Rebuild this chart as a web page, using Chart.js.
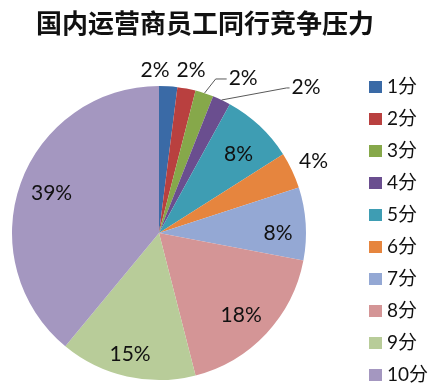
<!DOCTYPE html>
<html>
<head>
<meta charset="utf-8">
<script src="https://cdn.jsdelivr.net/npm/chart.js@4.4.1/dist/chart.umd.min.js"></script>
<style>
html,body{margin:0;padding:0;background:#fff;}
canvas{display:block;}
</style>
</head>
<body>
<canvas id="myChart" width="439" height="391"></canvas>
<script>
const chartTitle='国内运营商员工同行竞争压力';
const labels=['1分','2分','3分','4分','5分','6分','7分','8分','9分','10分'];
const values=[2,2,2,2,8,4,8,18,15,39];
const colors=['#3A6AA6','#B9403F','#86A84A','#6A4E8F','#3E9DB3','#E6853E','#94A8D4','#D49596','#B8CC99','#A497C0'];

// label placement per slice: [radius factor, angle shift in degrees, leader elbow (0 = none)]
const labelPlace=[[1.11,-5,0],[1.13,0.3,0],[1.2,10.5,11],[1.41,20,3],[0.76,2.2,0],[1.16,0.2,0],[0.81,3.6,0],[0.79,1.8,0],[0.85,0.8,0],[0.78,0.7,0]];

const txtFont='"Lato","Noto Sans CJK SC",sans-serif';

const decorPlugin={
    id:'decor',
    afterDraw(chart){
        const ctx=chart.ctx;
        const meta=chart.getDatasetMeta(0);
        const data=chart.data.datasets[0].data;
        const total=data.reduce((a,b)=>a+b,0);
        ctx.save();

        // title
        ctx.fillStyle='#111';
        ctx.font='bold 26px "Noto Sans CJK SC",sans-serif';
        ctx.textAlign='center';
        ctx.textBaseline='middle';
        ctx.fillText(chartTitle,205,23);

        // slice labels
        ctx.font='21px '+txtFont;
        meta.data.forEach((arc,i)=>{
            const p=labelPlace[i];
            const mid=(arc.startAngle+arc.endAngle)/2;
            const a=mid+p[1]*Math.PI/180;
            const r=arc.outerRadius*p[0];
            const x=arc.x+r*Math.cos(a);
            const y=arc.y+r*Math.sin(a);
            const txt=Math.round(data[i]/total*100)+'%';
            ctx.fillStyle='#111';
            ctx.fillText(txt,x,y);
            if(p[2]){
                const w=ctx.measureText(txt).width;
                const ex=x-w/2-2;
                ctx.strokeStyle='#595959';
                ctx.lineWidth=1;
                ctx.beginPath();
                ctx.moveTo(arc.x+arc.outerRadius*Math.cos(mid),arc.y+arc.outerRadius*Math.sin(mid));
                ctx.lineTo(ex-p[2],y+1);
                ctx.lineTo(ex,y+1);
                ctx.stroke();
            }
        });

        // legend
        ctx.font='19px '+txtFont;
        ctx.textAlign='left';
        chart.data.labels.forEach((lab,i)=>{
            const y=87+i*32;
            ctx.fillStyle=chart.data.datasets[0].backgroundColor[i];
            ctx.fillRect(369,y-6,13,12);
            ctx.fillStyle='#111';
            ctx.fillText(lab,387,y);
        });
        ctx.restore();
    }
};

window.addEventListener('load',()=>{
    const ctx=document.getElementById('myChart').getContext('2d');
    new Chart(ctx,{
        type:'pie',
        data:{
            labels:labels,
            datasets:[{
                data:values,
                backgroundColor:colors,
                borderWidth:0
            }]
        },
        options:{
            responsive:false,
            animation:false,
            layout:{padding:{left:12,top:86,right:133,bottom:11}},
            plugins:{
                legend:{display:false},
                tooltip:{enabled:false}
            }
        },
        plugins:[decorPlugin]
    });
});
</script>
</body>
</html>
